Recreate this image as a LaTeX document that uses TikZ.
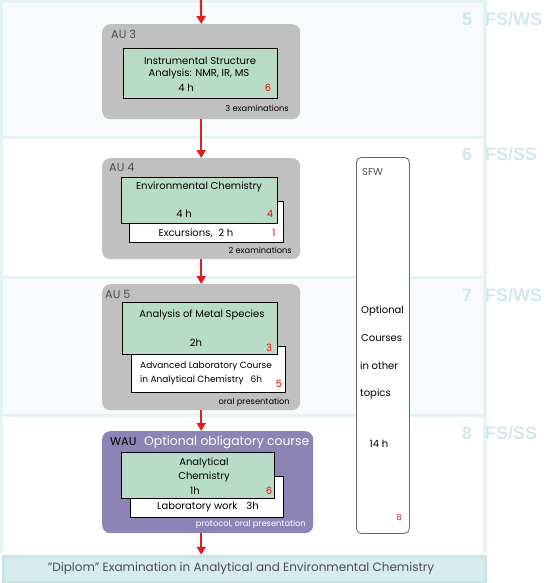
\documentclass[tikz,border=0pt]{standalone}
\usepackage{fontspec}
\setmainfont{Poppins}
\newfontfamily\semfont{Liberation Sans}
\usetikzlibrary{positioning,calc,arrows.meta}
\definecolor{bandfill}{HTML}{F7FBFB}
\definecolor{bandline}{HTML}{E6F3F3}
\definecolor{semtext}{HTML}{D2E7EA}
\definecolor{augray}{HTML}{C0C0C0}
\definecolor{coursegreen}{HTML}{B8DCC8}
\definecolor{waupurple}{HTML}{8C84B4}
\definecolor{flowred}{HTML}{E02020}
\definecolor{diplout}{HTML}{C8E4E4}
\definecolor{diplin}{HTML}{D8ECEE}

\begin{document}
\begin{tikzpicture}[x=1pt,y=-1pt,font=\fontsize{10}{12}\selectfont]
		\tikzstyle{au_box}=[fill=augray, rounded corners=8pt, anchor=north west, inner sep=0pt];
		\tikzstyle{course}=[draw, fill=coursegreen, anchor=north west, inner sep=0pt, line width=0.8pt];
		\tikzstyle{extra}=[draw, fill=white, anchor=north west, inner sep=0pt, line width=0.8pt];
		\tikzstyle{au_label}=[anchor=west, text=black!70, inner sep=0pt, font=\fontsize{11.3}{13}\selectfont];
		\tikzstyle{credit}=[text=red, inner sep=0pt];
		\tikzstyle{exam}=[anchor=east, inner sep=0pt, font=\fontsize{8.3}{10}\selectfont];
		\tikzstyle{sem_label}=[anchor=west, inner sep=0pt, text=semtext, font=\semfont\bfseries\fontsize{18}{20}\selectfont];
		\tikzstyle{flow}=[flowred, line width=2.2pt, -{Triangle[width=9pt,length=8pt]}];

		\useasboundingbox (0,0) rectangle (550,583);

		% semester bands
		\fill[bandfill] (0,0) rectangle (487,136);
		\fill[bandfill] (0,279) rectangle (487,414);
		\fill[bandline] (0,0) rectangle (3,553);
		\fill[bandline] (483,0) rectangle (487,553);
		\fill[bandline] (0,0) rectangle (487,3);
		\fill[bandline] (0,136) rectangle (487,139);
		\fill[bandline] (0,276) rectangle (487,279);
		\fill[bandline] (0,414) rectangle (487,417);

		\node[sem_label] (s5) at (462,19) {5\hspace{13pt}FS/WS};
		\node[sem_label] (s6) at (462,154) {6\hspace{13pt}FS/SS};
		\node[sem_label] (s7) at (462,295) {7\hspace{13pt}FS/WS};
		\node[sem_label] (s8) at (462,433) {8\hspace{13pt}FS/SS};

		% AU 3
		\node[au_box, minimum width=198, minimum height=95] (au_3) at (102,24) {};
		\node[au_label] at (111,34) {AU 3};
		\node[course, minimum width=154, minimum height=50] (gr_3) at (123,48) {};
		\node at (200,61) {Instrumental Structure};
		\node at (199,74) {Analysis: NMR, IR, MS};
		\node at (186,88) {4 h};
		\node[credit] at (268,88) {6};
		\node[exam] at (289,108) {3 examinations};

		% AU 4
		\node[au_box, minimum width=198, minimum height=101] (au_4) at (102,158) {};
		\node[au_label] at (109,167) {AU 4};
		\node[extra, minimum width=154, minimum height=41] (wh_4) at (129,201) {};
		\node[course, minimum width=156, minimum height=46] (gr_4) at (121,177) {};
		\node at (199,187) {Environmental Chemistry};
		\node at (184,214) {4 h};
		\node[credit] at (270,214) {4};
		\node at (196,233) {Excursions,\hspace{6pt}2 h};
		\node[credit] at (274,233) {1};
		\node[exam] at (292,250) {2 examinations};

		% AU 5
		\node[au_box, minimum width=198, minimum height=126] (au_5) at (102,284) {};
		\node[au_label] at (105,294) {AU 5};
		\node[extra, minimum width=154, minimum height=46] (wh_5) at (131,346) {};
		\node[course, minimum width=155, minimum height=52] (gr_5) at (122,302) {};
		\node at (202,315) {Analysis of Metal Species};
		\node at (196,343) {2h};
		\node[credit] at (269,348) {3};
		\node[anchor=west, inner sep=0pt, font=\fontsize{9}{11}\selectfont] at (140,366) {Advanced Laboratory Course};
		\node[anchor=west, inner sep=0pt, font=\fontsize{9}{11}\selectfont] at (140,380) {in Analytical Chemistry\hspace{7pt}6h};
		\node[credit] at (279,384) {5};
		\node[exam] at (290,402) {oral presentation};

		% WAU
		\node[au_box, fill=waupurple, minimum width=211, minimum height=102] (wau) at (102,431) {};
		\node[au_label, text=black] at (110,442) {WAU};
		\node[anchor=west, inner sep=0pt, text=white, font=\fontsize{12.4}{14}\selectfont] at (144,442) {Optional obligatory course};
		\node[extra, minimum width=153, minimum height=41] (wh_w) at (130,476) {};
		\node[course, minimum width=153, minimum height=46] (gr_w) at (121,452) {};
		\node at (204,463) {Analytical};
		\node at (204,477) {Chemistry};
		\node at (195,491) {1h};
		\node[credit] at (269,491) {6};
		\node at (208,507) {Laboratory work\hspace{9pt}3h};
		\node[exam, text=white] at (306,524) {protocol, oral presentation};

		% SFW
		\node[draw=black!60, fill=white, line width=0.8pt, rounded corners=5pt, anchor=north west, inner sep=0pt, minimum width=53, minimum height=376] (sfw) at (356,157) {};
		\node[anchor=west, inner sep=0pt, text=black!70] at (362,172) {SFW};
		\node[anchor=west, inner sep=0pt] at (361,311) {Optional};
		\node[anchor=west, inner sep=0pt] at (361,338) {Courses};
		\node[anchor=west, inner sep=0pt] at (360,366) {in other};
		\node[anchor=west, inner sep=0pt] at (360,394) {topics};
		\node at (379,444) {14 h};
		\node[credit, font=\fontsize{8.5}{10}\selectfont] at (399,517) {8};

		% Diplom
		\node[fill=diplin, draw=diplout, line width=3.5pt, anchor=north west, inner sep=0pt, minimum width=482, minimum height=26] (diplom) at (1.75,554.75) {};
		\node[text=black!70, font=\fontsize{12}{14}\selectfont] at (241,568) {"Diplom" Examination in Analytical and Environmental Chemistry};

		% flow
		\coordinate (start) at (201,0);
		\draw[flow] (start) -- (au_3.north);
		\draw[flow] (au_3.south) -- (au_4.north);
		\draw[flow] (au_4.south) -- (au_5.north);
		\draw[flow] (au_5.south) -- (au_5.south |- wau.north);
		\draw[flow] (au_5.south |- wau.south) -- (au_5.south |- diplom.north);
	\end{tikzpicture}
\end{document}
